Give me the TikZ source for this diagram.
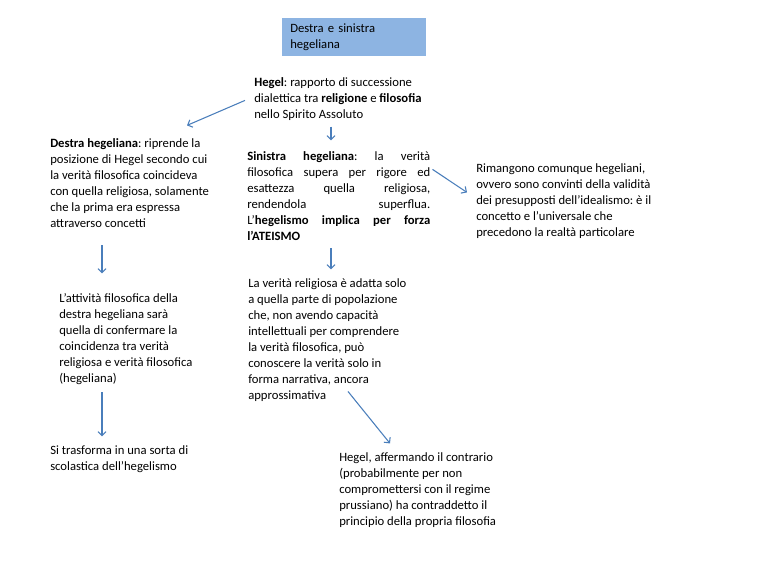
\documentclass[tikz,border=0pt]{standalone}
\usepackage{fontspec}
\setmainfont{Carlito}
\usetikzlibrary{arrows.meta}
\definecolor{titlefill}{RGB}{141,180,226}
\definecolor{arrowblue}{RGB}{74,126,187}
\tikzset{txt/.style={anchor=north west,inner sep=0pt,align=left,font=\fontsize{9.5}{12}\selectfont\frenchspacing},
arr/.style={draw=arrowblue,line width=0.8pt,-{Straight Barb[length=3pt,width=6pt]}}}
\begin{document}
\begin{tikzpicture}
[x=0.75pt,y=-0.75pt]
\useasboundingbox (0,0) rectangle (768,576);
\node[txt,fill=titlefill,inner xsep=6pt,text width=96pt,minimum height=28.5pt] (title) at (282,18) {Destra e sinistra\\hegeliana};
\node[txt] (hegel) at (254,77.8) {\textbf{Hegel}: rapporto di successione\\dialettica tra \textbf{religione} e \textbf{filosofia}\\nello Spirito Assoluto};
\node[txt] (destra) at (50,138.8) {\textbf{Destra hegeliana}: riprende la\\posizione di Hegel secondo cui\\la verità filosofica coincideva\\con quella religiosa, solamente\\che la prima era espressa\\attraverso concetti};
\node[txt,text width=137.25pt,align=justify] (sinistra) at (247,151.8) {\textbf{Sinistra hegeliana}: la verità\linebreak filosofica supera per rigore ed\linebreak esattezza quella religiosa,\linebreak rendendola superflua.\linebreak L’\textbf{hegelismo implica per forza}\linebreak \textbf{l’ATEISMO}};
\node[txt] (rimangono) at (476,163.8) {Rimangono comunque hegeliani,\\ovvero sono convinti della validità\\dei presupposti dell’idealismo: è il\\concetto e l’universale che\\precedono la realtà particolare};
\node[txt] (attivita) at (59,292.8) {L’attività filosofica della\\destra hegeliana sarà\\quella di confermare la\\coincidenza tra verità\\religiosa e verità filosofica\\(hegeliana)};
\node[txt] (trasforma) at (50,445.8) {Si trasforma in una sorta di\\scolastica dell’hegelismo};
\node[txt] (religiosa) at (248,278.8) {La verità religiosa è adatta solo\\a quella parte di popolazione\\che, non avendo capacità\\intellettuali per comprendere\\la verità filosofica, può\\conoscere la verità solo in\\forma narrativa, ancora\\approssimativa};
\node[txt] (contrario) at (339,452.8) {Hegel, affermando il contrario\\(probabilmente per non\\compromettersi con il regime\\prussiano) ha contraddetto il\\principio della propria filosofia};
\draw[arr] ([shift={(-9,22.6)}]hegel.north west) -- ([shift={(137,-13.4)}]destra.north west);
\draw[arr] ([shift={(77,5.3)}]hegel.south west) -- ([shift={(84,-11.4)}]sinistra.north west);
\draw[arr] ([shift={(2,17.6)}]sinistra.north east) -- ([shift={(-9,28.6)}]rimangono.north west);
\draw[arr] ([shift={(52,17)}]destra.south west) -- ([shift={(43,-19.4)}]attivita.north west);
\draw[arr] ([shift={(84,7)}]sinistra.south west) -- ([shift={(83,-9.4)}]religiosa.north west);
\draw[arr] ([shift={(43,7.7)}]attivita.south west) -- ([shift={(52,-9.4)}]trasforma.north west);
\draw[arr] ([shift={(100,-10.7)}]religiosa.south west) -- ([shift={(51,-9.4)}]contrario.north west);
\end{tikzpicture}
\end{document}
